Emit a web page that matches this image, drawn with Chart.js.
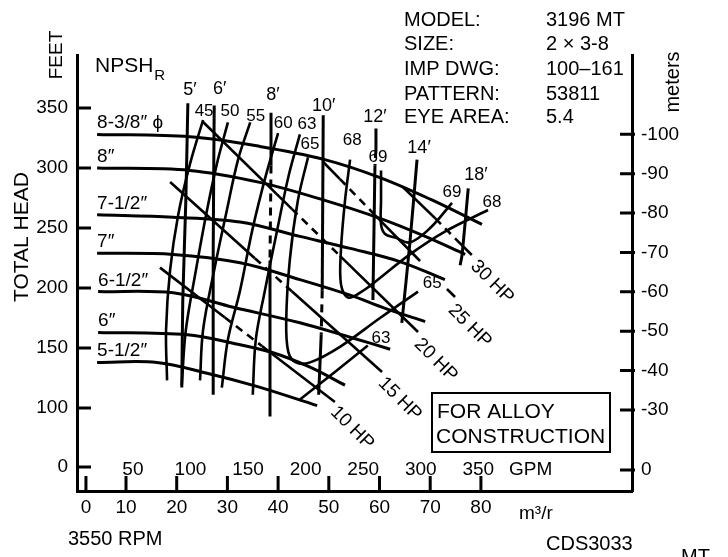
<!DOCTYPE html>
<html><head><meta charset="utf-8">
<script src="https://cdn.jsdelivr.net/npm/chart.js@4.4.0/dist/chart.umd.min.js"></script>
<style>html,body{margin:0;padding:0;background:#fff}#wrap{position:relative;width:728px;height:557px}</style>
</head><body><div id="wrap"><canvas id="c" width="728" height="557"></canvas></div>
<script>
// ---------- axis ticks ----------
const xTickValues = [2.1,10,20,30,40,50,60,70,80];          // m3/h
const xTickLabels = ["0","10","20","30","40","50","60","70","80"];
const gpmTickValues = [50,100,150,200,250,300,350];          // US GPM
const yTickValues = [50.8,100,150,200,250,300,350];          // feet
const yTickLabels = ["0","100","150","200","250","300","350"];
const mTickValues = [14.7,30,40,50,60,70,80,90,100];         // meters
const mTickLabels = ["0","-30","-40","-50","-60","-70","-80","-90","-100"];

// ---------- impeller diameter head curves [m3/h, ft] ----------
const imp838 = [[4.3,328],[22.6,326],[36.4,318],[49.2,307],[60.1,292],[70.0,274],[80.2,253]];
const imp8   = [[4.3,300],[22.6,298],[36.4,288],[49.2,273],[60.1,258],[69.0,243],[76.9,228]];
const imp712 = [[4.3,261],[19.3,259],[32.5,255],[44.3,243],[54.2,233],[64.0,222],[72.9,207]];
const imp7   = [[4.3,229],[19.3,228],[32.5,221],[44.3,207],[54.2,194],[61.1,183],[69.0,172]];
const imp612 = [[4.5,197],[19.3,196],[31.1,184],[44.3,171],[54.2,159],[62.1,149]];
const imp6   = [[4.5,163],[22.1,161],[31.1,154],[39.0,146],[46.3,134],[53.2,119]];
const imp512 = [[4.3,138],[16.1,138],[26.0,129],[35.8,118],[47.7,102]];
const impLabels = ["8-3/8\u2033 \u03D5","8\u2033","7-1/2\u2033","7\u2033","6-1/2\u2033","6\u2033","5-1/2\u2033"];

// ---------- efficiency curves ----------
const eff45  = [[25.2,340],[22.6,303],[20.3,261],[18.7,215],[17.9,165],[18.1,123]];
const eff50  = [[30.1,338],[27.9,303],[25.8,261],[23.8,215],[21.8,165],[21.0,119]];
const eff55  = [[34.5,338],[32.1,307],[29.7,261],[27.4,215],[25.2,165],[24.6,123]];
const eff60  = [[40.0,329],[37.6,294],[34.9,248],[32.5,198],[30.1,157],[28.9,117]];
const eff63  = [[44.3,328],[42.1,294],[39.8,248],[37.4,198],[35.6,157],[35.0,111]];
const eff63r = [[44.3,107],[51.2,130],[57.7,152]];
const eff65  = [[45.9,309],[43.9,273],[42.3,223],[41.6,173],[42.0,147],[43.5,138],[46.3,138],[52.2,151],[60.1,175],[67.6,197]];
const eff68  = [[54.2,307],[53.2,273],[52.4,232],[52.4,203],[53.8,192],[56.5,197],[59.1,205],[66.0,228],[72.9,247],[81.4,265]];
const eff69  = [[60.3,298],[60.3,273],[60.3,253],[61.1,245],[63.1,242],[66.0,238],[70.0,250],[74.3,271]];
const effLabels = [["45",25.4,347.5],["50",30.5,347.5],["55",35.6,343.3],["60",41.0,337.5],["63",45.7,336.7],
  ["65",46.3,320],["68",54.6,323.3],["69",59.7,309.2],["69",74.3,280],["68",82.2,271.7],["65",70.4,204.2],["63",60.3,158.3]];

// ---------- NPSHr lines ----------
const npsh5  = [[22.2,354],[21.8,273],[21.2,190],[21.0,117]];
const npsh6  = [[27.4,352],[27.2,232],[27.2,111]];
const npsh8  = [[38.6,346],[38.6,302],[38.4,223],[38.4,93]];
const npsh10 = [[48.9,344],[48.7,198],[48.5,161],[48.0,111]];
const npsh12 = [[59.3,333],[59.3,315],[59.1,302],[58.7,190]];
const npsh14 = [[67.4,307],[66.0,238],[64.4,171]];
const npsh18 = [[77.5,283],[76.3,228],[75.9,219]];
const npshLabels = [["5\u2032",22.6,365],["6\u2032",28.5,365.8],["8\u2032",39.0,360.8],["10\u2032",49.0,351.7],
  ["12\u2032",59.1,342.5],["14\u2032",67.8,316.7],["18\u2032",79.0,294.2]];

// ---------- horsepower lines ----------
const hp10 = [[16.7,217],[29.5,175.4],[36.8,151.7],[51.2,105]];
const hp15 = [[18.7,288.3],[35.4,224.8],[42.7,197.3],[60.5,130]];
const hp20 = [[25.2,338.3],[42.7,265.9],[52.2,226.8],[67.6,163.3]];
const hp25 = [[48.9,305],[52.2,290.8],[59.1,260.8],[68.0,222.5],[73.3,199.2],[74.9,192.5]];
const hp30 = [[64.6,284.2],[71.0,258],[74.9,241.4],[78.2,227.5]];
const hpLabels = [["10 HP",54.6,83.3],["15 HP",64.0,107.5],["20 HP",71.1,140],["25 HP",77.8,168.3],["30 HP",82.2,205]];

// ---------- header text ----------
const infoKeys = ["MODEL:","SIZE:","IMP DWG:","PATTERN:","EYE AREA:"];
const infoVals = ["3196 MT","2 \u00D7 3-8","100\u2013161","53811","5.4"];

const FONT = '"Liberation Sans", Arial, Helvetica, sans-serif';
const F = s => s + 'px ' + FONT;
const M_PER_FT = 0.3048, GPM_TO_M3H = 0.22712;

function mk(arr, width, tension, dashSegs, hideSegs) {
  return {
    data: arr.map(p => ({x: p[0], y: p[1]})),
    showLine: true, borderColor: '#000', borderWidth: width, pointRadius: 0,
    tension: tension, fill: false, borderCapStyle: 'butt',
    segment: {
      borderDash: c => (dashSegs && dashSegs.includes(c.p0DataIndex)) ? [8, 6] : undefined,
      borderColor: c => (hideSegs && hideSegs.includes(c.p0DataIndex)) ? 'rgba(0,0,0,0)' : undefined
    }
  };
}

const impCurves = [imp838, imp8, imp712, imp7, imp612, imp6, imp512];
const datasets = [];
impCurves.forEach(c => datasets.push(mk(c, 3, 0.35)));
[eff45, eff50, eff55, eff60, eff63, eff63r, eff65, eff68, eff69].forEach(c => datasets.push(mk(c, 2.6, 0.35)));
datasets.push(mk(npsh5, 3, 0.2));
datasets.push(mk(npsh6, 3, 0.2));
datasets.push(mk(npsh8, 3, 0, [1]));
datasets.push(mk(npsh10, 3, 0, [1]));
datasets.push(mk(npsh12, 3, 0, [1]));
datasets.push(mk(npsh14, 3, 0.2));
datasets.push(mk(npsh18, 3, 0.2));
datasets.push(mk(hp10, 2.6, 0, [1]));
datasets.push(mk(hp15, 2.6, 0, [1]));
datasets.push(mk(hp20, 2.6, 0, [1]));
datasets.push(mk(hp25, 2.6, 0, [1], [3]));
datasets.push(mk(hp30, 2.6, 0, [1]));

const decor = {
  id: 'decor',
  afterDraw(chart) {
    const ctx = chart.ctx, xs = chart.scales.x, ys = chart.scales.y, ms = chart.scales.y2;
    const A = chart.chartArea;
    const X = v => xs.getPixelForValue(v), Y = v => ys.getPixelForValue(v);
    ctx.save();
    ctx.fillStyle = '#000'; ctx.strokeStyle = '#000';
    // inward tick marks
    ctx.lineWidth = 3;
    ctx.beginPath();
    ys.ticks.forEach(t => { const p = ys.getPixelForValue(t.value); ctx.moveTo(A.left, p); ctx.lineTo(A.left + 14, p); });
    ms.ticks.forEach(t => { const p = ms.getPixelForValue(t.value); ctx.moveTo(A.right - 12, p); ctx.lineTo(A.right + 3, p); });
    xs.ticks.forEach(t => { const p = xs.getPixelForValue(t.value); ctx.moveTo(p, A.bottom); ctx.lineTo(p, A.bottom - 15); });
    ctx.stroke();

    // GPM labels inside the plot
    ctx.font = F(19); ctx.textAlign = 'center'; ctx.textBaseline = 'alphabetic';
    gpmTickValues.forEach(g => ctx.fillText(String(g), X(g * GPM_TO_M3H), 475));
    ctx.textAlign = 'left';
    ctx.fillText('GPM', 509, 475);
    ctx.fillText('m\u00B3/r', 519, 519);

    // impeller labels above the curve starts
    ctx.font = F(19);
    impCurves.forEach((c, i) => ctx.fillText(impLabels[i], X(c[0][0]), Y(c[0][1]) - 6));

    // efficiency & NPSH labels
    ctx.textAlign = 'center'; ctx.textBaseline = 'middle';
    ctx.font = F(17);
    effLabels.forEach(l => ctx.fillText(l[0], X(l[1]), Y(l[2])));
    ctx.font = F(18);
    npshLabels.forEach(l => ctx.fillText(l[0], X(l[1]), Y(l[2])));

    // HP labels rotated
    ctx.font = F(19);
    hpLabels.forEach(l => {
      ctx.save(); ctx.translate(X(l[1]), Y(l[2])); ctx.rotate(Math.PI / 4);
      ctx.fillText(l[0], 0, 0); ctx.restore();
    });

    // vertical titles
    const vt = (s, x, y, sz) => { ctx.save(); ctx.translate(x, y); ctx.rotate(-Math.PI / 2); ctx.font = F(sz); ctx.fillText(s, 0, 0); ctx.restore(); };
    vt('FEET', 57, 55, 19);
    vt('TOTAL HEAD', 22, 237, 21);
    vt('meters', 673, 82, 20);

    // NPSHR title
    ctx.textAlign = 'left'; ctx.textBaseline = 'alphabetic';
    ctx.font = F(21); ctx.fillText('NPSH', 95, 72);
    const w = ctx.measureText('NPSH').width;
    ctx.font = F(15); ctx.fillText('R', 95 + w + 1, 80);

    // model block
    ctx.font = F(20);
    const bl = [26, 50, 75, 100, 123];
    infoKeys.forEach((k, i) => { ctx.fillText(k, 404, bl[i]); ctx.fillText(infoVals[i], 546, bl[i]); });

    // note box
    ctx.lineWidth = 2;
    ctx.strokeRect(432, 393, 178, 59);
    ctx.font = F(21);
    ctx.fillText('FOR ALLOY', 437, 418);
    ctx.fillText('CONSTRUCTION', 436, 443);

    // footer
    ctx.font = F(20);
    ctx.fillText('3550 RPM', 68, 545);
    ctx.fillText('CDS3033', 546, 550);
    ctx.fillText('MT', 681, 563);
    ctx.restore();
  }
};

const yMin = 30.83, yMax = 394.17;
new Chart(document.getElementById('c'), {
  type: 'scatter',
  data: { datasets },
  options: {
    responsive: false, animation: false, devicePixelRatio: 1,
    layout: { padding: { left: 0, right: 0, top: 55, bottom: 0 } },
    plugins: { legend: { display: false }, tooltip: { enabled: false } },
    scales: {
      x: {
        type: 'linear', position: 'bottom', min: 0.335, max: 109.8,
        afterFit: s => { s.height = 66; },
        afterBuildTicks: s => { s.ticks = xTickValues.map(v => ({ value: v })); },
        grid: { display: false, drawTicks: false },
        border: { display: true, color: '#000', width: 3 },
        ticks: { autoSkip: false, maxRotation: 0, padding: 5, color: '#000', font: { family: FONT, size: 19 },
                 callback: (v, i) => xTickLabels[i] }
      },
      y: {
        type: 'linear', position: 'left', min: yMin, max: yMax,
        afterFit: s => { s.width = 77; },
        afterBuildTicks: s => { s.ticks = yTickValues.map(v => ({ value: v })); },
        grid: { display: false, drawTicks: false },
        border: { display: true, color: '#000', width: 3 },
        ticks: { autoSkip: false, padding: 9, color: '#000', font: { family: FONT, size: 19 },
                 callback: (v, i) => yTickLabels[i] }
      },
      y2: {
        type: 'linear', position: 'right', min: yMin * M_PER_FT, max: yMax * M_PER_FT,
        afterFit: s => { s.width = 96; },
        afterBuildTicks: s => { s.ticks = mTickValues.map(v => ({ value: v })); },
        grid: { display: false, drawTicks: false },
        border: { display: true, color: '#000', width: 3 },
        ticks: { autoSkip: false, padding: 9, color: '#000', font: { family: FONT, size: 19 },
                 callback: (v, i) => mTickLabels[i] }
      }
    }
  },
  plugins: [decor]
});
</script></body></html>
